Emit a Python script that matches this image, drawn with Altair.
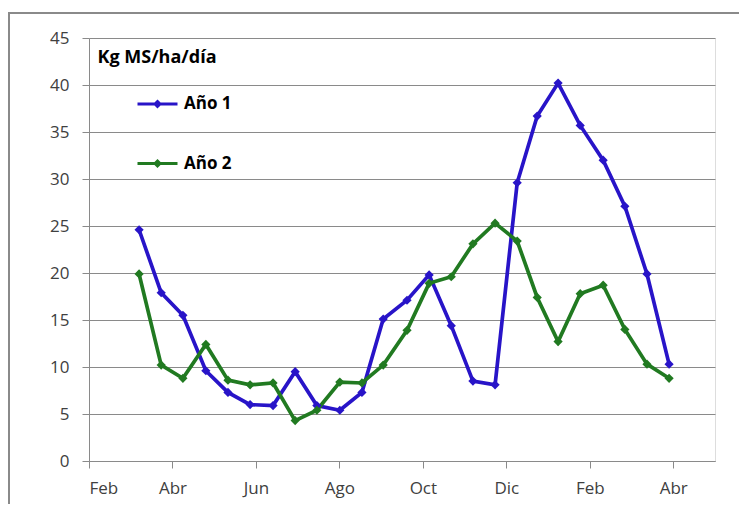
import altair as alt
import pandas as pd

# months elapsed since 1 February of year 1
months = [1.20, 1.73, 2.25, 2.80, 3.33, 3.86, 4.41, 4.94, 5.46, 6.01, 6.54, 7.05,
          7.62, 8.15, 8.68, 9.20, 9.73, 10.26, 10.74, 11.24, 11.77, 12.32, 12.84,
          13.37, 13.90]
ano1 = [24.6, 17.9, 15.5, 9.6, 7.3, 6.0, 5.9, 9.5, 5.9, 5.4, 7.3, 15.1, 17.1,
        19.8, 14.4, 8.5, 8.1, 29.6, 36.7, 40.2, 35.7, 32.0, 27.1, 19.9, 10.3]
ano2 = [19.9, 10.2, 8.8, 12.4, 8.6, 8.1, 8.3, 4.3, 5.4, 8.4, 8.3, 10.2, 13.9,
        18.9, 19.6, 23.1, 25.3, 23.4, 17.4, 12.7, 17.8, 18.7, 14.0, 10.3, 8.8]
series_names = ["Año 1", "Año 2"]
series_colors = ["#2814c8", "#217a21"]
tick_values = [0, 2, 4, 6, 8, 10, 12, 14]
tick_labels = ["Feb", "Abr", "Jun", "Ago", "Oct", "Dic", "Feb", "Abr"]
y_ticks = [0, 5, 10, 15, 20, 25, 30, 35, 40, 45]

rows = []
for s, vals in zip(series_names, [ano1, ano2]):
    for m, v in zip(months, vals):
        rows.append({"mes": m, "valor": v, "serie": s})
df = pd.DataFrame(rows)

label_js = "[" + ",".join("'%s'" % t for t in tick_labels) + "][round(datum.value/2)]"

FONT = "Open Sans"
GRID = "#8a8a8a"

x_enc = alt.X("mes:Q",
              scale=alt.Scale(domain=[0, 15], nice=False, zero=False),
              axis=alt.Axis(values=tick_values, labelExpr=label_js, title=None,
                            grid=False, tickSize=7, labelPadding=12,
                            domainColor=GRID, tickColor=GRID,
                            labelFont=FONT, labelFontSize=17, labelColor="#404040"))
y_enc = alt.Y("valor:Q",
              scale=alt.Scale(domain=[0, 45], nice=False),
              axis=alt.Axis(values=y_ticks, title="Kg MS/ha/día", titleAngle=0,
                            titleX=8, titleY=24, titleAlign="left",
                            titleBaseline="alphabetic", titleFont=FONT,
                            titleFontSize=18, titleFontWeight="bold",
                            titleColor="#000000",
                            grid=True, gridColor=GRID, tickSize=7, labelPadding=13,
                            domainColor=GRID, tickColor=GRID,
                            labelFont=FONT, labelFontSize=17, labelColor="#404040"))
legend_symbol = "M-1,0H1M0,-0.12L0.12,0L0,0.12L-0.12,0Z"
color_enc = alt.Color("serie:N",
                      scale=alt.Scale(domain=series_names, range=series_colors),
                      legend=alt.Legend(title=None, orient="none", legendX=47,
                                        legendY=44.5, symbolType=legend_symbol,
                                        symbolSize=1600, symbolStrokeWidth=3,
                                        rowPadding=29.5, labelOffset=5,
                                        labelFont=FONT, labelFontSize=17,
                                        labelFontWeight="bold",
                                        labelColor="#000000", padding=0))

base = alt.Chart(df)
lines = base.mark_line(strokeWidth=3.7).encode(x=x_enc, y=y_enc, color=color_enc)
points = base.mark_point(shape="diamond", filled=True, size=85, opacity=1).encode(
    x="mes:Q", y="valor:Q", color=alt.Color("serie:N", legend=None))

frame_df = pd.DataFrame({"k": [0]})
frame_left = alt.Chart(frame_df).mark_rule(color="#8a8a8a", strokeWidth=2).encode(
    x=alt.value(-80), y=alt.value(-25), y2=alt.value(480))
frame_top = alt.Chart(frame_df).mark_rule(color="#8a8a8a", strokeWidth=2).encode(
    x=alt.value(-81), x2=alt.value(660), y=alt.value(-25))

chart = alt.layer(lines, points, frame_left, frame_top).properties(
    width=626, height=423,
    autosize=alt.AutoSizeParams(type="none"),
    padding={"left": 81, "top": 30, "right": 24, "bottom": 43},
).configure_view(stroke=None).configure(background="white")

chart.save("out.html", embed_options={"renderer": "svg", "actions": False})
